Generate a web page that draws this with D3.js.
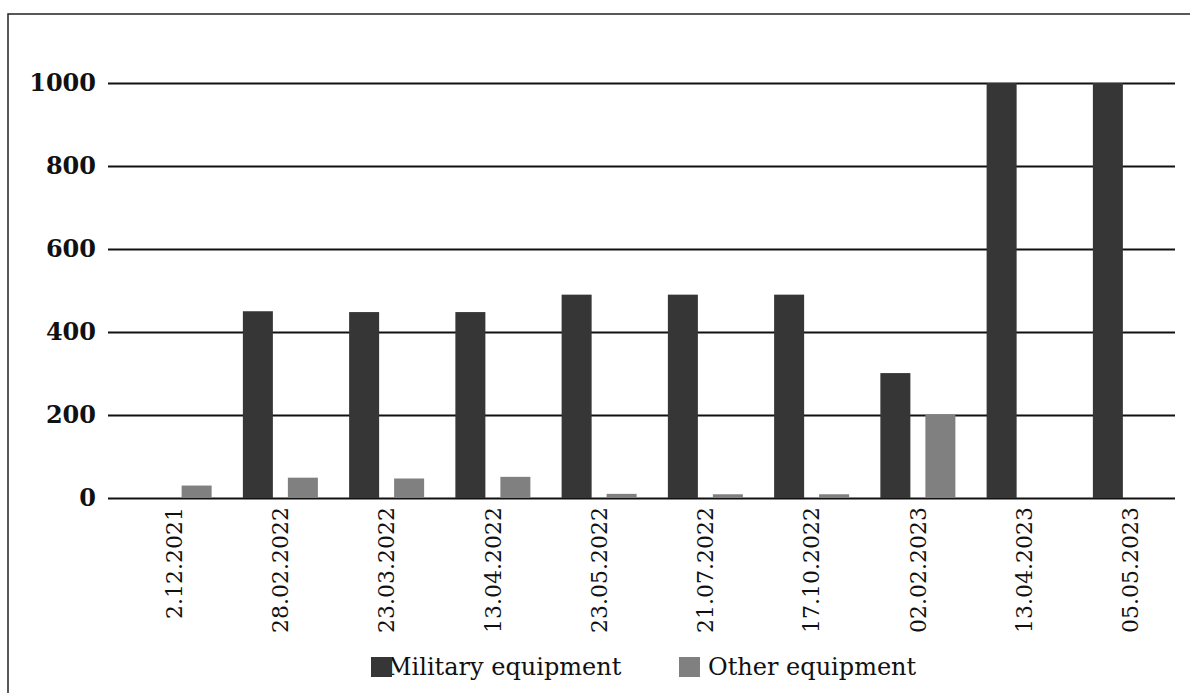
<!DOCTYPE html>
<html>
<head>
<meta charset="utf-8">
<script src="https://cdn.jsdelivr.net/npm/d3@7"></script>
<style>
    body { margin: 0; background: #fff; }
    svg { display: block; }
</style>
</head>
<body>
<div id="chart"></div>
<script>
const dates = ["2.12.2021", "28.02.2022", "23.03.2022", "13.04.2022", "23.05.2022",
    "21.07.2022", "17.10.2022", "02.02.2023", "13.04.2023", "05.05.2023"];
const military = [0, 450, 448, 448, 490, 490, 490, 301, 1000, 1000];
const other = [30, 49, 47, 51, 10, 9, 9, 200, 0, 0];
const seriesNames = ["Military equipment", "Other equipment"];
const yTicks = [0, 200, 400, 600, 800, 1000];

const colors = { "Military equipment": "#363636", "Other equipment": "#808080" };
const fontFamily = "'DejaVu Serif', 'Liberation Serif', serif";

const width = 1190;
const height = 693;

const rows = dates.map((d, i) => ({ date: d, "Military equipment": military[i], "Other equipment": other[i] }));

const svg = d3.select("#chart").append("svg").attr("width", width).attr("height", height);

// frame round the whole chart (runs off the right and bottom of the crop)
svg.append("rect").
attr("x", 8).attr("y", 14).
attr("width", 1300).attr("height", 800).
attr("fill", "none").attr("stroke", "#222").attr("stroke-width", 1.5);

const x0 = d3.scaleBand().domain(dates).range([121, 1183.5]).paddingInner(0.294).paddingOuter(0.147);
const x1 = d3.scaleBand().domain(seriesNames).range([0, x0.bandwidth()]).paddingInner(1 / 3);
const y = d3.scaleLinear().domain([0, 1000]).range([498, 83]);

const gridLeft = 108, gridRight = 1175;

const yAxis = svg.append("g").
attr("transform", "translate(" + gridLeft + ",0)").
call(d3.axisLeft(y).tickValues(yTicks).tickFormat(d3.format("d")).tickSize(-(gridRight - gridLeft)).tickPadding(12));
yAxis.select(".domain").remove();
yAxis.selectAll(".tick line").attr("stroke", "#111").attr("stroke-width", 2);
yAxis.selectAll(".tick text").
style("font-family", fontFamily).
style("font-size", "24px").
style("font-weight", "bold").
attr("fill", "#111");

svg.append("g").
selectAll("g").
data(rows).
join("g").
attr("transform", d => "translate(" + x0(d.date) + ",0)").
selectAll("rect").
data(d => seriesNames.map(k => ({ key: k, value: d[k] }))).
join("rect").
attr("x", d => x1(d.key)).
attr("width", x1.bandwidth()).
attr("y", d => y(d.value)).
attr("height", d => y(0) - y(d.value)).
attr("fill", d => colors[d.key]);

const xAxis = svg.append("g").
attr("transform", "translate(0,507)").
call(d3.axisBottom(x0).tickSize(0).tickPadding(0));
xAxis.select(".domain").remove();
xAxis.selectAll(".tick text").
attr("transform", "rotate(-90)").
attr("text-anchor", "end").
attr("x", 0).attr("y", 0).attr("dy", "0.35em").
style("font-family", fontFamily).
style("font-size", "22px").
attr("fill", "#111");

// legend
const legendItems = [
    { name: seriesNames[0], sx: 371, tx: 387 },
    { name: seriesNames[1], sx: 679, tx: 708 }
];
const legend = svg.append("g");
legend.selectAll("text").
data(legendItems).
join("text").
attr("x", d => d.tx).
attr("y", 675).
style("font-family", fontFamily).
style("font-size", "24px").
attr("fill", "#111").
text(d => d.name);
legend.selectAll("rect").
data(legendItems).
join("rect").
attr("x", d => d.sx).
attr("y", 657).
attr("width", 21).
attr("height", 20).
attr("fill", d => colors[d.name]);
</script>
</body>
</html>
